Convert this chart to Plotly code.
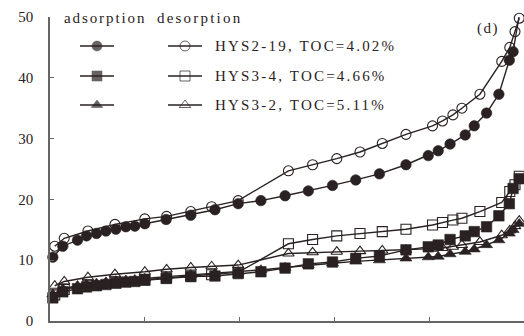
import plotly.graph_objects as go

# ---------------- data ----------------
p_ads = [0.006, 0.027, 0.058, 0.077, 0.098, 0.118, 0.139, 0.160, 0.179, 0.200,
         0.245, 0.297, 0.348, 0.397, 0.445, 0.496, 0.545, 0.596, 0.645, 0.695,
         0.751, 0.798, 0.819, 0.844, 0.876, 0.895, 0.921, 0.947, 0.969, 0.977, 0.990]
p_des = [0.990, 0.981, 0.970, 0.953, 0.907, 0.869, 0.850, 0.828, 0.807, 0.751,
         0.701, 0.654, 0.605, 0.554, 0.503, 0.397, 0.341, 0.297, 0.246, 0.200,
         0.137, 0.080, 0.030, 0.010]

hys2_19_ads = [10.5, 12.3, 13.3, 14.0, 14.4, 14.8, 15.1, 15.5, 15.6, 16.0,
               16.7, 17.4, 18.3, 19.3, 19.8, 20.6, 21.4, 22.3, 23.2, 24.2,
               25.7, 27.2, 28.0, 29.1, 30.6, 32.1, 34.2, 37.3, 42.9, 44.3, 50.3]
hys2_19_des = [49.8, 47.6, 45.0, 42.7, 37.3, 35.0, 33.9, 32.9, 32.1, 30.7,
               29.2, 27.8, 26.7, 25.7, 24.7, 19.8, 18.8, 18.0, 17.2, 16.8,
               15.9, 14.8, 13.6, 12.3]

hys3_4_ads = [3.8, 4.8, 5.3, 5.6, 5.8, 6.0, 6.2, 6.4, 6.5, 6.7,
              7.0, 7.3, 7.4, 7.8, 8.1, 8.7, 9.4, 9.7, 10.3, 10.7,
              11.7, 12.2, 12.5, 13.4, 14.0, 14.7, 15.5, 17.3, 19.3, 21.8, 23.4]
hys3_4_des = [23.8, 22.4, 21.3, 19.5, 18.0, 16.9, 16.6, 16.2, 15.8, 15.1,
              14.7, 14.4, 14.0, 13.4, 12.7, 8.0, 7.6, 7.4, 7.1, 6.8,
              6.4, 5.9, 5.2, 4.3]

hys3_2_ads = [4.4, 5.3, 5.8, 6.0, 6.2, 6.4, 6.6, 6.7, 6.8, 7.0,
              7.3, 7.6, 7.8, 8.1, 8.4, 8.8, 9.2, 9.5, 9.8, 10.0,
              10.3, 10.5, 10.6, 11.0, 11.4, 11.8, 12.5, 13.3, 14.4, 15.0, 16.0]
hys3_2_des = [16.5, 15.6, 14.9, 14.1, 13.0, 12.5, 12.2, 12.0, 11.9, 11.7,
              11.6, 11.5, 11.4, 11.3, 11.1, 9.2, 9.0, 8.8, 8.5, 8.1,
              7.7, 7.2, 6.5, 5.8]

sample_labels = ["HYS2-19, TOC=4.02%", "HYS3-4, TOC=4.66%", "HYS3-2, TOC=5.11%"]
filled_symbols = ["circle", "square", "triangle-up"]
open_symbols = ["circle-open", "square-open", "triangle-up-open"]
y_ticks = [0, 10, 20, 30, 40, 50]
x_ticks = [0, 0.2, 0.4, 0.6, 0.8, 1.0]

INK = "#2a2122"
FONT = "Liberation Serif"


def spaced(txt, px):
    return '<span style="letter-spacing:%spx">%s</span>' % (px, txt)


ads_sets = [hys2_19_ads, hys3_4_ads, hys3_2_ads]
des_sets = [hys2_19_des, hys3_4_des, hys3_2_des]

fig = go.Figure()
for i in range(3):
    fig.add_trace(go.Scatter(
        x=p_des, y=des_sets[i], mode="lines+markers",
        line=dict(color=INK, width=1.4),
        marker=dict(symbol=open_symbols[i], size=10, color=INK,
                    line=dict(width=1.1, color=INK)),
        cliponaxis=False, showlegend=False))
    fig.add_trace(go.Scatter(
        x=p_ads, y=ads_sets[i], mode="lines+markers",
        line=dict(color=INK, width=1.4),
        marker=dict(symbol=filled_symbols[i], size=10.5, color=INK,
                    line=dict(width=0.6, color=INK)),
        cliponaxis=False, showlegend=False))

# ---------------- custom legend (pixel-like overlay axes) ----------------
legend_rows_y = [46, 76, 105]
legend_key_x = [97, 185]
legend_line_half = 17
for i, ry in enumerate(legend_rows_y):
    for j, kx in enumerate(legend_key_x):
        fig.add_trace(go.Scatter(
            x=[kx - legend_line_half, kx, kx + legend_line_half], y=[ry, ry, ry],
            xaxis="x2", yaxis="y2", mode="lines+markers",
            line=dict(color=INK, width=1.4),
            marker=dict(symbol=[filled_symbols[i], open_symbols[i]][j],
                        size=[0, 10, 0], color=INK,
                        line=dict(width=1.0 if j else 0.6, color=INK)),
            cliponaxis=False, showlegend=False, hoverinfo="skip"))
    fig.add_annotation(x=213, y=ry, xref="x2", yref="y2",
                       text=spaced(sample_labels[i], 2.2),
                       showarrow=False, xanchor="left", yanchor="middle",
                       font=dict(family=FONT, size=15, color=INK))

fig.add_annotation(x=62, y=18, xref="x2", yref="y2", text=spaced("adsorption", 1.9),
                   showarrow=False, xanchor="left", yanchor="middle",
                   font=dict(family=FONT, size=15, color=INK))
fig.add_annotation(x=155, y=18, xref="x2", yref="y2", text=spaced("desorption", 2.2),
                   showarrow=False, xanchor="left", yanchor="middle",
                   font=dict(family=FONT, size=15, color=INK))
fig.add_annotation(x=488, y=28, xref="x2", yref="y2", text=spaced("(d)", 1.5),
                   showarrow=False, xanchor="center", yanchor="middle",
                   font=dict(family=FONT, size=15, color=INK))

fig.update_layout(
    width=524, height=336,
    margin=dict(l=50, r=0, t=17, b=15),
    paper_bgcolor="white", plot_bgcolor="white",
    xaxis=dict(range=[0, 1], tickvals=x_ticks, showticklabels=False,
               ticks="inside", ticklen=4, tickcolor="#666", tickwidth=1,
               showline=True, linecolor="#666", linewidth=1.5,
               showgrid=False, zeroline=False),
    yaxis=dict(range=[0, 50], tickvals=y_ticks, ticks="inside", ticklen=4,
               tickcolor="#666", tickwidth=1, showline=True, linecolor="#666",
               linewidth=1.5, showgrid=False, zeroline=False,
               tickfont=dict(family=FONT, size=15, color=INK), ticklabelstandoff=12),
    xaxis2=dict(range=[50, 524], overlaying="x", anchor="y2", visible=False),
    yaxis2=dict(range=[321, 17], overlaying="y", anchor="x2", visible=False),
)

fig.write_html("out.html")
